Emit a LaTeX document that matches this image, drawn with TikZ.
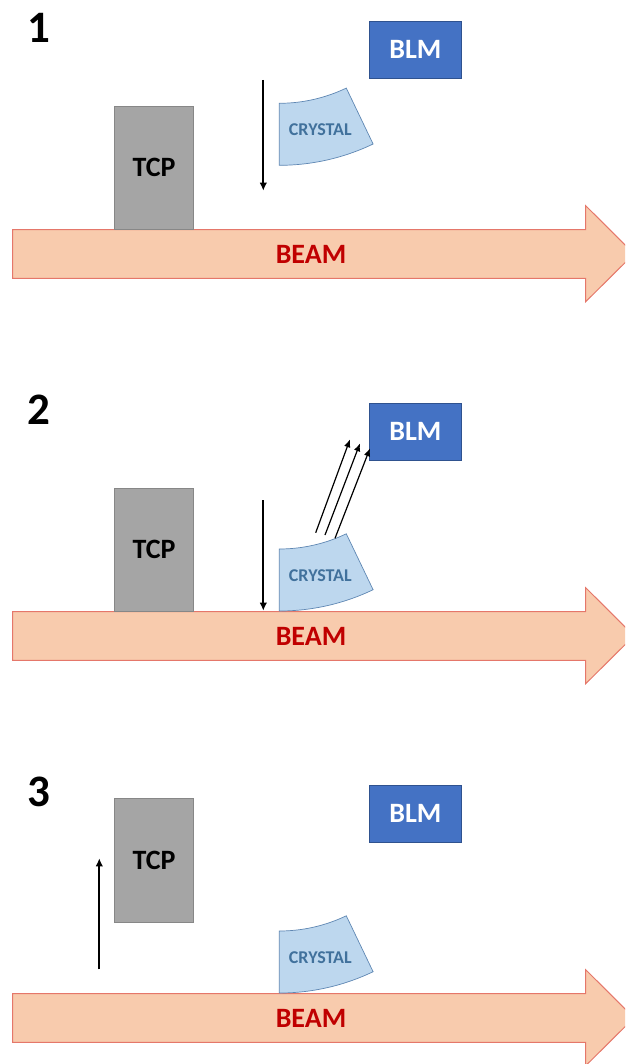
\documentclass[tikz,border=0pt]{standalone}
\usepackage{fontspec}
\setmainfont{Carlito}
\usetikzlibrary{arrows.meta}

\definecolor{blmfill}{HTML}{4472C4}
\definecolor{blmedge}{HTML}{2F528F}
\definecolor{tcpfill}{HTML}{A5A5A5}
\definecolor{tcpedge}{HTML}{878787}
\definecolor{beamfill}{HTML}{F8CBAD}
\definecolor{beamedge}{HTML}{E5776A}
\definecolor{beamred}{HTML}{C00000}
\definecolor{crysfill}{HTML}{BDD7EE}
\definecolor{crysedge}{HTML}{5F87B3}
\definecolor{crysink}{HTML}{41719C}

\tikzset{
  % bent crystal: annular sector, top-left corner at the pic origin
  crystalpic/.pic={
    \draw[crystal] (0,0) arc[start angle=90, end angle=64.4, radius=155]
      -- (93.8,40.7) arc[start angle=64.4, end angle=90, radius=217] -- cycle;
    \node[crystext] (-txt) at (41,26.7) {CRYSTAL};
  },
  % beam arrow, tip runs past the right edge
  beampic/.pic={
    \draw[beam] (12.7,229.7) -- (585.7,229.7) -- (585.7,205.7) -- (634,253.8)
      -- (585.7,301.7) -- (585.7,278.3) -- (12.7,278.3) -- cycle;
    \node[beamtext] (-txt) at (311,254.5) {BEAM};
  }
}

\begin{document}
\begin{tikzpicture}[
    x=1pt, y=-1pt,
    num/.style={font=\fontsize{45}{45}\selectfont\bfseries, inner sep=0pt},
    blm/.style={draw=blmedge, fill=blmfill, line width=0.8pt, inner sep=0pt,
      minimum width=92pt, minimum height=57pt, text=white,
      font=\fontsize{28}{28}\selectfont\bfseries},
    tcp/.style={draw=tcpedge, fill=tcpfill, line width=0.8pt, inner sep=0pt,
      minimum width=79.4pt, minimum height=123.7pt,
      font=\fontsize{28}{28}\selectfont\bfseries},
    beam/.style={draw=beamedge, fill=beamfill, line width=1pt},
    beamtext/.style={text=beamred, inner sep=0pt,
      font=\fontsize{28}{28}\selectfont\bfseries},
    crystal/.style={draw=crysedge, fill=crysfill, line width=0.7pt},
    crystext/.style={text=crysink, inner sep=0pt,
      font=\fontsize{18}{18}\selectfont\bfseries},
    move/.style={line width=2.1pt, -{Latex[length=8pt,width=7.5pt]}},
    ray/.style={line width=1.2pt, -{Latex[length=8pt,width=6.5pt]}}
  ]
  \clip (0,0) rectangle (625,1064);

  % 1: crystal moves in, TCP still on the beam
  \pic (bm1) at (0,0) {beampic};
  \node[num] (n1) at (39,28) {1};
  \node[blm] (blm1) at (415.3,49.5) {BLM};
  \node[tcp] (tcp1) at (154,167.8) {TCP};
  \pic (cr1) at (279.3,103.3) {crystalpic};
  \coordinate (s1) at (263.3,80);
  \coordinate (e1) at (263.3,190.7);
  \draw[move] (s1) -- (e1);

  % 2: crystal on the beam, channeled particles reach the BLM
  \begin{scope}[shift={(0,382)}]
    \pic (bm2) at (0,0) {beampic};
    \node[num] (n2) at (39,28) {2};
    \node[blm] (blm2) at (415.3,49.5) {BLM};
    \node[tcp] (tcp2) at (154,167.8) {TCP};
    \pic (cr2) at (279.3,167) {crystalpic};
    \coordinate (s2) at (263.3,118);
    \coordinate (e2) at (263.3,228.7);
    \draw[move] (s2) -- (e2);
    % rays
    \coordinate (ra) at (315.7,150.7);
    \coordinate (rb) at (325,153);
    \coordinate (rc) at (335,156.3);
    \coordinate (ta) at (350,57.3);
    \coordinate (tb) at (360,61.3);
    \coordinate (tc) at (370,66.3);
    \draw[ray] (ra) -- (ta);
    \draw[ray] (rb) -- (tb);
    \draw[ray] (rc) -- (tc);
  \end{scope}

  % 3: TCP pulled back
  \begin{scope}[shift={(0,764)}]
    \pic (bm3) at (0,0) {beampic};
    \node[num] (n3) at (39,28) {3};
    \node[blm] (blm3) at (415.3,49.5) {BLM};
    \node[tcp] (tcp3) at (154,96.4) {TCP};
    \pic (cr3) at (279.3,167) {crystalpic};
    \coordinate (s3) at (99.3,205.3);
    \coordinate (e3) at (99.3,94.3);
    \draw[move] (s3) -- (e3);
  \end{scope}
\end{tikzpicture}
\end{document}
